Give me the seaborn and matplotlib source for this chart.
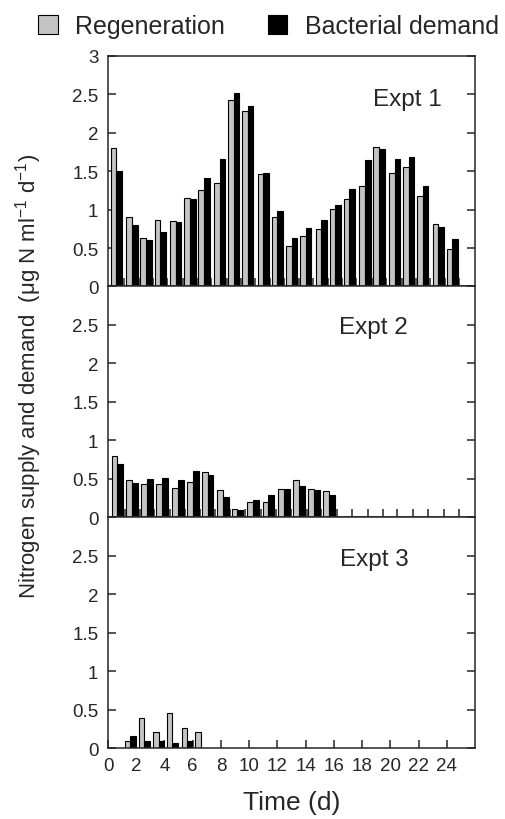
import seaborn as sns
import matplotlib.pyplot as plt
import numpy as np
import pandas as pd

## Data (day = centre of each bar pair)
expt1_day = [0.6, 1.7, 2.7, 3.7, 4.8, 5.8, 6.8, 7.9, 8.9, 9.9, 11.0, 12.0,
             13.0, 14.0, 15.1, 16.1, 17.1, 18.2, 19.2, 20.3, 21.3, 22.3, 23.4, 24.4]
expt1_regen = [1.80, 0.90, 0.63, 0.87, 0.85, 1.15, 1.25, 1.35, 2.42, 2.28, 1.46, 0.90,
               0.53, 0.65, 0.75, 1.01, 1.14, 1.30, 1.81, 1.47, 1.55, 1.17, 0.81, 0.49]
expt1_demand = [1.50, 0.80, 0.61, 0.71, 0.84, 1.14, 1.41, 1.66, 2.51, 2.34, 1.48, 0.98,
                0.625, 0.755, 0.86, 1.06, 1.27, 1.64, 1.79, 1.66, 1.68, 1.31, 0.77, 0.62]

expt2_day = [0.66, 1.71, 2.75, 3.83, 4.94, 6.0, 7.06, 8.14, 9.17, 10.28, 11.36,
             12.46, 13.55, 14.58, 15.67]
expt2_regen = [0.80, 0.49, 0.43, 0.43, 0.38, 0.46, 0.59, 0.36, 0.11, 0.205, 0.205,
               0.37, 0.49, 0.37, 0.34]
expt2_demand = [0.70, 0.45, 0.50, 0.51, 0.49, 0.60, 0.55, 0.26, 0.09, 0.22, 0.29,
                0.37, 0.41, 0.35, 0.295]

expt3_day = [1.57, 2.58, 3.6, 4.56, 5.6, 6.58]
expt3_regen = [0.09, 0.39, 0.21, 0.46, 0.265, 0.21]
expt3_demand = [0.16, 0.10, 0.09, 0.075, 0.095, np.nan]

# extra bottom ticks of Expt 2 after the last sample
expt2_extra_ticks = [17.3, 18.4, 19.5, 20.5, 21.6, 22.7, 23.8, 24.9]

series_names = ['Regeneration', 'Bacterial demand']
colors = {'Regeneration': '#c4c4c4', 'Bacterial demand': '#000000'}


def to_long(day, regen, demand):
    df = pd.DataFrame({'day': day, series_names[0]: regen, series_names[1]: demand})
    df = df.melt(id_vars='day', var_name='series', value_name='value')
    return df.dropna()


sns.set_style("ticks")
plt.rcParams['font.family'] = ['Liberation Sans', 'DejaVu Sans']
plt.rcParams['mathtext.fontset'] = 'custom'
plt.rcParams['mathtext.rm'] = 'Liberation Sans'
plt.rcParams['mathtext.default'] = 'regular'

fig, axes = plt.subplots(3, 1, figsize=(5.05, 8.20), dpi=100,
                         gridspec_kw={'hspace': 0})
fig.subplots_adjust(left=0.2139, right=0.9406, top=0.931, bottom=0.0862)

panels = [(expt1_day, expt1_regen, expt1_demand, 'Expt 1', 21.2, 2.43),
          (expt2_day, expt2_regen, expt2_demand, 'Expt 2', 18.8, 2.48),
          (expt3_day, expt3_regen, expt3_demand, 'Expt 3', 18.9, 2.46)]

for i, (ax, (day, regen, demand, title, tx, ty)) in enumerate(zip(axes, panels)):
    df = to_long(day, regen, demand)
    sns.barplot(data=df, x='day', y='value', hue='series', hue_order=series_names,
                palette=colors, native_scale=True, errorbar=None,
                edgecolor='black', linewidth=0.8, ax=ax)
    ax.set_xlim(0, 26.0)
    ax.set_ylim(0, 3)
    ax.set_yticks(np.arange(0, 3.01, 0.5))
    ylabels = ['0', '0.5', '1', '1.5', '2', '2.5', '3']
    if i > 0:
        ylabels[-1] = ''
    ax.set_yticklabels(ylabels)
    ax.tick_params(axis='y', direction='in', right=True, length=6, width=1.1,
                   labelsize=13.5, pad=7)
    ax.tick_params(axis='x', direction='in', top=False, length=6, width=1.1,
                   labelsize=13.5, pad=6)
    ax.set_xlabel('')
    ax.set_ylabel('')
    for sp in ax.spines.values():
        sp.set_visible(True)
        sp.set_linewidth(1.1)
    ax.text(tx, ty, title, fontsize=17.5, ha='center', va='center')
    if ax.get_legend() is not None:
        if i == 0:
            handles, labels = ax.get_legend_handles_labels()
        ax.get_legend().remove()

# bottom tick marks for each panel
axes[0].set_xticks([d + 0.5 for d in expt1_day])
axes[0].tick_params(axis='x', labelbottom=False)
axes[1].set_xticks([d + 0.53 for d in expt2_day] + expt2_extra_ticks)
axes[1].tick_params(axis='x', labelbottom=False)
ax3 = axes[2]
ax3.set_xticks(np.arange(0, 25, 2))
ax3.set_xticklabels([str(v) for v in range(0, 25, 2)])
ax3.set_xlabel('Time (d)', fontsize=19, labelpad=12)

fig.text(0.056, 0.541, 'Nitrogen supply and demand  (μg N ml$^{-1}$ d$^{-1}$)',
         rotation=90, ha='center', va='center', fontsize=16)

fig.legend(handles, labels, loc='upper center', bbox_to_anchor=(0.532, 1.003),
           ncol=2, frameon=False, fontsize=18, handlelength=0.78,
           handleheight=0.78, handletextpad=0.7, columnspacing=1.7,
           borderpad=0.2)

plt.savefig('out.png', dpi=100)
